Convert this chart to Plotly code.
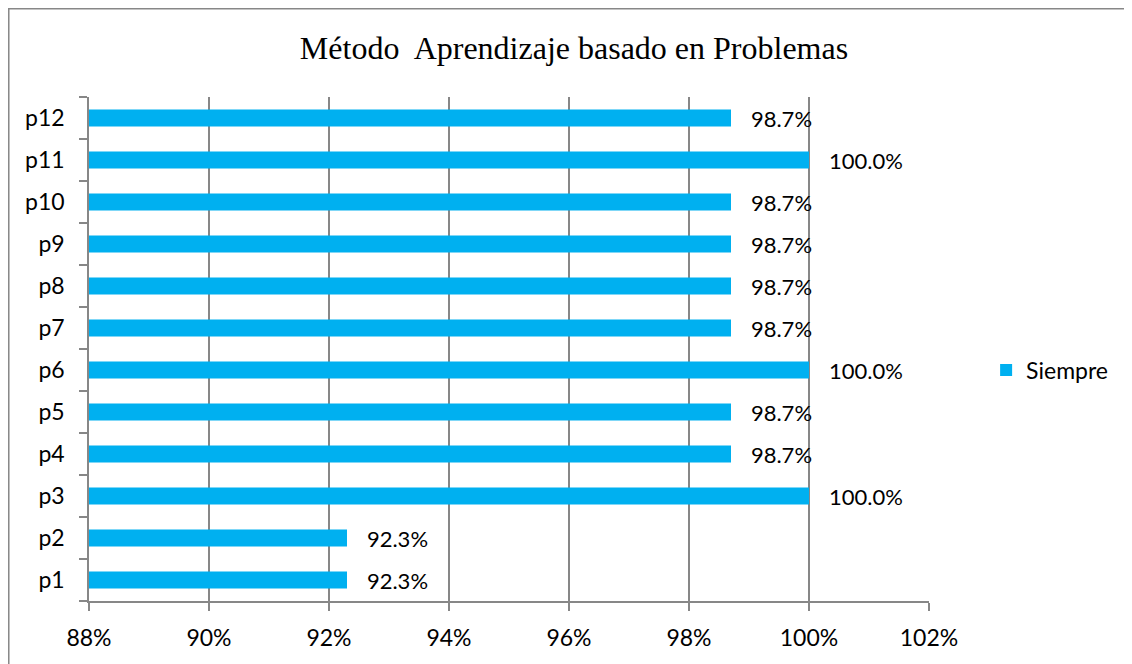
import plotly.graph_objects as go

# Data
preguntas = ["p1", "p2", "p3", "p4", "p5", "p6", "p7", "p8", "p9", "p10", "p11", "p12"]
siempre = [0.923, 0.923, 1.0, 0.987, 0.987, 1.0, 0.987, 0.987, 0.987, 0.987, 1.0, 0.987]
x_ticks = [0.88, 0.90, 0.92, 0.94, 0.96, 0.98, 1.00, 1.02]

BAR_COLOR = "#00B0F0"
GRID = "#878787"
SANS = "Lato, 'Open Sans', sans-serif"

# the page body adds an 8px margin, so margins are shifted back by that much
fig = go.Figure()

fig.add_trace(go.Bar(
    y=preguntas,
    x=siempre,
    orientation="h",
    name="Siempre",
    marker=dict(color=BAR_COLOR, line=dict(width=0)),
    width=0.4,
    texttemplate="\u00a0\u00a0\u00a0%{x:.1%}",
    textposition="outside",
    constraintext="none",
    textfont=dict(family=SANS, size=22, color="#000"),
    cliponaxis=False,
))

fig.update_layout(
    width=1132,
    height=664,
    margin=dict(l=81, r=211, t=89, b=71),
    paper_bgcolor="white",
    plot_bgcolor="white",
    title=dict(
        text="Método  Aprendizaje basado en Problemas",
        font=dict(family="'Liberation Serif', 'Times New Roman', serif", size=32, color="#000"),
        x=0.5, xanchor="center",
        y=0.94, yanchor="middle",
    ),
    showlegend=True,
    legend=dict(
        x=1.068, xanchor="left",
        y=0.458, yanchor="middle",
        font=dict(family=SANS, size=23, color="#000"),
        itemwidth=30,
        bgcolor="rgba(0,0,0,0)",
    ),
)

fig.update_xaxes(
    range=[0.88, 1.02],
    tickvals=x_ticks,
    tickformat=".0%",
    showgrid=True,
    gridcolor=GRID,
    gridwidth=1.5,
    showline=True,
    linecolor=GRID,
    linewidth=1.5,
    ticks="outside",
    ticklen=8,
    tickcolor=GRID,
    tickwidth=1.5,
    ticklabelstandoff=8,
    tickfont=dict(family=SANS, size=23, color="#000"),
    zeroline=False,
)

fig.update_yaxes(
    categoryorder="array",
    categoryarray=preguntas,
    showgrid=False,
    showline=True,
    linecolor=GRID,
    linewidth=1.5,
    ticks="outside",
    tickson="boundaries",
    ticklen=8,
    tickcolor=GRID,
    tickwidth=1.5,
    ticklabelstandoff=18,
    tickfont=dict(family=SANS, size=23, color="#000"),
)

# outer chart border (runs off the right and bottom of the page)
fig.add_shape(
    type="rect", xref="paper", yref="paper",
    x0=-0.0955, x1=1.3, y0=-0.3, y1=1.1751,
    line=dict(color=GRID, width=1.5),
    fillcolor="rgba(0,0,0,0)",
    layer="below",
)

fig.write_html("out.html")
